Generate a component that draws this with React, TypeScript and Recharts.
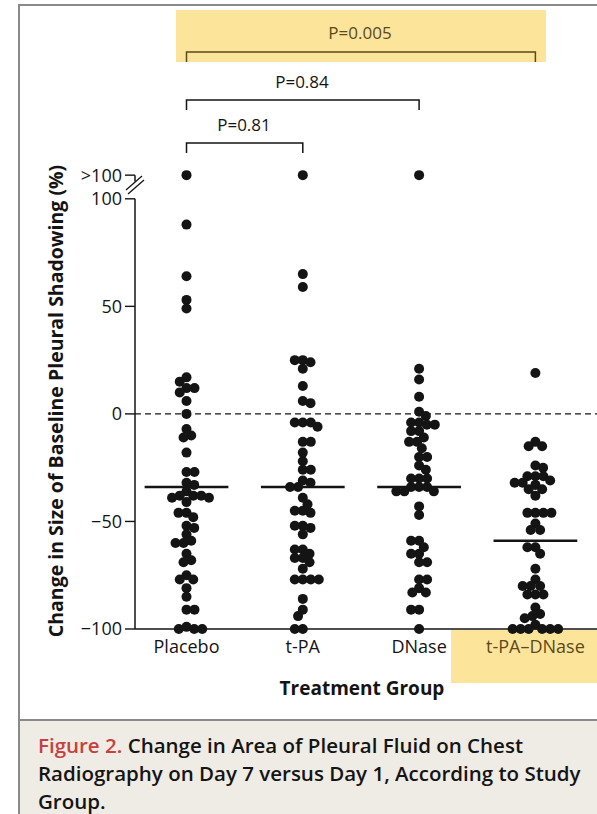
import { ScatterChart, Scatter, XAxis, YAxis, ReferenceLine } from 'recharts';

// values; points above 100 are drawn in the ">100" band
const OVER_100 = 111;
const CATEGORIES = ['Placebo', 't-PA', 'DNase', 't-PA\u2013DNase'];
const PLACEBO = [OVER_100, 88, 64, 53, 49, 17, 15, 12, 12, 10, 6, 0, -7, -10, -11, -18, -27, -27, -32, -33, -36, -38, -38, -38, -39, -39, -41, -46, -46, -48, -52, -53, -56, -59, -60, -60, -65, -68, -69, -75, -77, -77, -81, -85, -91, -91, -99, -100, -100, -100];
const TPA = [OVER_100, 65, 59, 25, 25, 24, 21, 13, 6, 5, -4, -4, -4, -6, -13, -13, -18, -22, -26, -26, -31, -32, -34, -34, -39, -42, -45, -45, -46, -52, -52, -53, -56, -63, -63, -65, -67, -67, -69, -72, -77, -77, -77, -77, -86, -91, -94, -100, -100];
const DNASE = [OVER_100, 21, 16, 8, 1, -1, -4, -4, -5, -5, -8, -8, -11, -13, -13, -16, -20, -20, -24, -26, -30, -30, -30, -34, -34, -34, -36, -36, -36, -43, -47, -59, -59, -62, -65, -65, -69, -69, -77, -77, -81, -83, -83, -91, -91, -100];
const TPA_DNASE = [19, -13, -15, -15, -24, -25, -29, -29, -29, -31, -32, -32, -33, -35, -35, -38, -46, -46, -46, -46, -51, -54, -54, -62, -62, -65, -72, -77, -80, -80, -80, -84, -84, -84, -90, -93, -94, -95, -98, -100, -100, -100, -100, -100, -100];
const GROUPS = [PLACEBO, TPA, DNASE, TPA_DNASE];
const MEANS = [-34, -34, -34, -59];
const Y_TICKS = [-100, -50, 0, 50, 100, OVER_100];
const COMPARISONS = [
  { from: 1, to: 2, label: 'P=0.81' },
  { from: 1, to: 3, label: 'P=0.84' },
  { from: 1, to: 4, label: 'P=0.005' },
];

const W = 597;
const H = 814;
const PLOT_LEFT = 135;
const PLOT_RIGHT = 597;
const PLOT_TOP = 173;
const PLOT_BOTTOM = 629;
const X_AXIS_H = 40;
const Y_MIN = -100;
const Y_MAX = 112;
const CAT_PX = 116.3;
const FIRST_CAT_PX = 186.5;
const X_MIN = 1 - (FIRST_CAT_PX - PLOT_LEFT) / CAT_PX;
const X_MAX = X_MIN + (PLOT_RIGHT - PLOT_LEFT) / CAT_PX;
const PX_PER_Y = (PLOT_BOTTOM - PLOT_TOP) / (Y_MAX - Y_MIN);
const DOT_GAP = 8;
const MEAN_HALF = 0.36;

const INK = '#141414';
const OLIVE = '#5a4a1c';
const YELLOW = '#fde49b';
const FONT = '"Open Sans", sans-serif';

// simple beeswarm: put each dot as close to the centre as it can go without overlapping
function swarm(values: number[]) {
  const placed: { x: number; y: number }[] = [];
  const offsets = new Array(values.length).fill(0);
  const order = values.map((_, i) => i).sort((a, b) => values[b] - values[a]);
  order.forEach((i, n) => {
    const y = values[i] * PX_PER_Y;
    const near = placed.filter((p) => Math.abs(p.y - y) < DOT_GAP);
    const cands = [0];
    near.forEach((p) => {
      const w = Math.sqrt(DOT_GAP * DOT_GAP - (p.y - y) * (p.y - y));
      cands.push(p.x - w, p.x + w);
    });
    const side = n % 2 === 0 ? 1 : -1;
    cands.sort((a, b) => Math.abs(a) - Math.abs(b) || (a - b) * side);
    const x = cands.find((c) => near.every((p) => Math.hypot(c - p.x, p.y - y) >= DOT_GAP - 0.01)) ?? 0;
    placed.push({ x, y });
    offsets[i] = x / CAT_PX;
  });
  return offsets;
}

const points = GROUPS.flatMap((vals, g) => {
  const off = swarm(vals);
  return vals.map((v, i) => ({ x: g + 1 + off[i], y: v }));
});

const catX = (c: number) => PLOT_LEFT + (c - X_MIN) * CAT_PX;

const Dot = (props: any) => <circle cx={props.cx} cy={props.cy} r={5} fill={INK} />;

const CatTick = (props: any) => {
  const i = Math.round(props.payload.value) - 1;
  return (
    <text x={props.x} y={PLOT_BOTTOM} dy={24} textAnchor="middle" fontSize={18} fontFamily={FONT}
      fill={i === 3 ? OLIVE : INK}>
      {CATEGORIES[i]}
    </text>
  );
};

export default function App() {
  return (
    <div style={{ position: 'absolute', left: 0, top: 0, width: W, height: H, background: '#fff', overflow: 'hidden' }}>
      <svg width={W} height={H} style={{ position: 'absolute', left: 0, top: 0 }}>
        <rect x={176} y={10} width={370} height={52} fill={YELLOW} />
        <rect x={451} y={630} width={146} height={53} fill={YELLOW} />
        <rect x={20} y={720} width={577} height={94} fill="#efebe5" />
      </svg>
      <div style={{ position: 'absolute', left: 0, top: 0 }}>
        <ScatterChart width={W} height={H}
          margin={{ top: PLOT_TOP, right: W - PLOT_RIGHT, bottom: H - PLOT_BOTTOM - X_AXIS_H, left: 0 }}>
          <XAxis type="number" dataKey="x" domain={[X_MIN, X_MAX]} ticks={[1, 2, 3, 4]} interval={0}
            height={X_AXIS_H} tick={<CatTick />} tickLine={false} tickSize={0}
            axisLine={{ stroke: INK, strokeWidth: 1.5 }} />
          <YAxis type="number" dataKey="y" domain={[Y_MIN, Y_MAX]} ticks={Y_TICKS} interval={0}
            width={PLOT_LEFT} axisLine={false} tickSize={10} tickMargin={3}
            tickLine={{ stroke: INK, strokeWidth: 1.4 }}
            tickFormatter={(v: number) => (v === OVER_100 ? '>100' : v < 0 ? '\u2212' + Math.abs(v) : String(v))}
            tick={{ fill: INK, fontSize: 18, fontFamily: FONT }} />
          <ReferenceLine segment={[{ x: X_MIN, y: Y_MIN }, { x: X_MIN, y: 100 }]} stroke={INK} strokeWidth={1.5} />
          <ReferenceLine segment={[{ x: X_MIN, y: OVER_100 }, { x: X_MIN, y: 108 }]} stroke={INK} strokeWidth={1.5} />
          <ReferenceLine y={0} stroke={INK} strokeWidth={1.4} strokeDasharray="6 4" />
          {MEANS.map((m, i) => (
            <ReferenceLine key={i} segment={[{ x: i + 1 - MEAN_HALF, y: m }, { x: i + 1 + MEAN_HALF, y: m }]}
              stroke={INK} strokeWidth={2.6} />
          ))}
          <Scatter data={points} shape={<Dot />} isAnimationActive={false} />
        </ScatterChart>
      </div>
      <svg width={W} height={H} style={{ position: 'absolute', left: 0, top: 0, pointerEvents: 'none' }}
        fontFamily={FONT}>
        {/* frame */}
        <line x1={19} y1={5} x2={W} y2={5} stroke="#8a8a8a" strokeWidth={2} />
        <line x1={19} y1={4} x2={19} y2={H} stroke="#8a8a8a" strokeWidth={2} />
        <line x1={19} y1={720} x2={W} y2={720} stroke="#8a8a8a" strokeWidth={2} />
        {/* axis break */}
        <line x1={126} y1={190} x2={142} y2={176} stroke={INK} strokeWidth={1.3} />
        <line x1={128} y1={194} x2={144} y2={180} stroke={INK} strokeWidth={1.3} />
        {/* comparison brackets */}
        {COMPARISONS.map((c, i) => {
          const yLine = [143, 100, 52][i];
          const yText = [131, 88, 39][i];
          const col = c.to === 4 ? OLIVE : INK;
          const x1 = catX(c.from);
          const x2 = catX(c.to);
          return (
            <g key={c.label}>
              <path d={`M${x1},${yLine + 10}V${yLine}H${x2}V${yLine + 10}`} fill="none" stroke={col} strokeWidth={1.5} />
              <text x={[244, 302, 360][i]} y={yText} textAnchor="middle" fontSize={17} fill={col}>{c.label}</text>
            </g>
          );
        })}
        <text transform="translate(63,401) rotate(-90)" textAnchor="middle" fontSize={19.5} fontWeight={700} fill={INK}>
          Change in Size of Baseline Pleural Shadowing (%)
        </text>
        <text x={362} y={695} textAnchor="middle" fontSize={19} fontWeight={700} fill={INK}>Treatment Group</text>
        <g fontSize={20.5} fontWeight={600} fill={INK}>
          <text x={38} y={753}><tspan fill="#c7403d">Figure 2.</tspan> Change in Area of Pleural Fluid on Chest</text>
          <text x={38} y={781}>Radiography on Day 7 versus Day 1, According to Study</text>
          <text x={38} y={809}>Group.</text>
        </g>
      </svg>
    </div>
  );
}
